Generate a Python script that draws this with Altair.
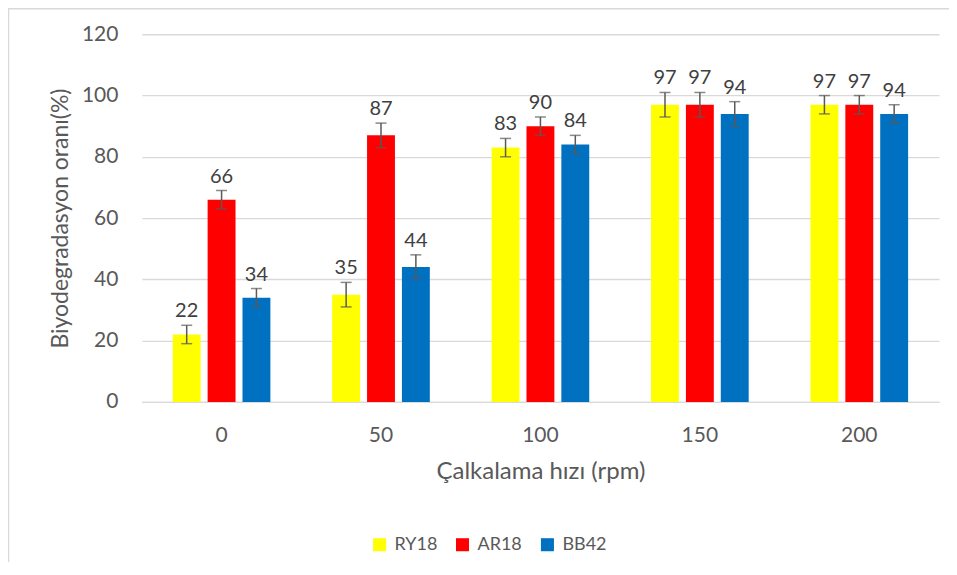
import altair as alt
import pandas as pd

groups = ["0", "50", "100", "150", "200"]
series = ["RY18", "AR18", "BB42"]
colors = ["#FFFF00", "#FF0000", "#0070C0"]
ry18 = [22, 35, 83, 97, 97]
ar18 = [66, 87, 90, 97, 97]
bb42 = [34, 44, 84, 94, 94]
ry18_err = [3, 4, 3, 4, 3]
ar18_err = [3, 4, 3, 4, 3]
bb42_err = [3, 4, 3, 4, 3]

rows = []
for s, vals, errs in zip(series, [ry18, ar18, bb42], [ry18_err, ar18_err, bb42_err]):
    for g, v, e in zip(groups, vals, errs):
        rows.append({"rpm": g, "dye": s, "value": v, "lo": v - e, "hi": v + e})
df = pd.DataFrame(rows)

FONT = "Lato"
W, H = 798, 368

x = alt.X("rpm:N", sort=groups, title="Çalkalama hızı (rpm)",
          scale=alt.Scale(paddingInner=0, paddingOuter=0),
          axis=alt.Axis(labelAngle=0, ticks=False, domain=True, domainColor="#D9D9D9",
                        domainWidth=1.5, labelPadding=23, titlePadding=14,
                        labelFontSize=21, titleFontSize=24))
xo = alt.XOffset("dye:N", sort=series, scale=alt.Scale(paddingInner=0.2, paddingOuter=0.886))

base = alt.Chart(df)

bars = base.mark_bar().encode(
    x=x,
    xOffset=xo,
    y=alt.Y("value:Q", title="Biyodegradasyon oranı(%)",
            scale=alt.Scale(domain=[0, 120], nice=False),
            axis=alt.Axis(values=[0, 20, 40, 60, 80, 100, 120], ticks=False, domain=False,
                          gridColor="#D9D9D9", gridWidth=1.3, labelPadding=24,
                          titlePadding=9, labelFontSize=21, titleFontSize=23)),
    color=alt.Color("dye:N", sort=series, scale=alt.Scale(domain=series, range=colors),
                    legend=alt.Legend(title=None, orient="none", direction="horizontal",
                                      legendX=229, legendY=131 + H + 3,
                                      symbolType="square", symbolSize=170,
                                      symbolStrokeWidth=0, labelFontSize=18,
                                      columnPadding=16, labelOffset=6)),
)

err = base.mark_rule(color="#595959", strokeWidth=1.5).encode(
    x=alt.X("rpm:N", sort=groups), xOffset=xo, y="lo:Q", y2="hi:Q")
cap_lo = base.mark_tick(color="#595959", thickness=1.5, size=11, orient="horizontal").encode(
    x=alt.X("rpm:N", sort=groups), xOffset=xo, y="lo:Q")
cap_hi = base.mark_tick(color="#595959", thickness=1.5, size=11, orient="horizontal").encode(
    x=alt.X("rpm:N", sort=groups), xOffset=xo, y="hi:Q")
labels = base.mark_text(baseline="bottom", dy=-4, fontSize=20, color="#404040", font=FONT).encode(
    x=alt.X("rpm:N", sort=groups), xOffset=xo, y="hi:Q", text="value:Q")

frame_left = alt.Chart(pd.DataFrame({"k": [0]})).mark_rule(color="#D9D9D9", strokeWidth=1.5).encode(
    x=alt.value(-133.5), y=alt.value(-27), y2=alt.value(H + 170))
frame_top = alt.Chart(pd.DataFrame({"k": [0]})).mark_rule(color="#D9D9D9", strokeWidth=1.5).encode(
    x=alt.value(-134), x2=alt.value(W + 20), y=alt.value(-25.5))

chart = alt.layer(frame_left, frame_top, bars, err, cap_lo, cap_hi, labels).properties(
    width=W, height=H,
    autosize=alt.AutoSizeParams(type="none"),
    padding={"left": 134, "top": 26, "right": 10, "bottom": 160},
).configure(font=FONT).configure_view(stroke=None).configure_axis(
    labelColor="#595959", titleColor="#595959", labelFont=FONT, titleFont=FONT,
    titleFontWeight="normal"
).configure_legend(labelColor="#595959", labelFont=FONT)

chart.save("out.html", embed_options={"renderer": "svg", "actions": False})
